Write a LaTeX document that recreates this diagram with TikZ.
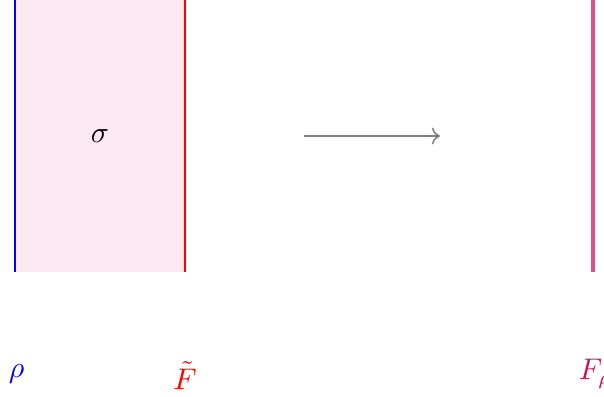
\documentclass[tikz,border=0pt]{standalone}
\usepackage{amsmath,amssymb}
\usetikzlibrary{arrows.meta,positioning}
\definecolor{fillpink}{RGB}{252,232,240}
\definecolor{thickpink}{RGB}{222,82,140}
\definecolor{labelpurple}{RGB}{200,20,90}

\begin{document}
\begin{tikzpicture}[edge/.style={line width=0.4pt}, lbl/.style={inner sep=1pt}, arr/.style={->,gray,line width=0.5pt}]
\useasboundingbox (-0.176,-1.459) rectangle (6.93,3.2);
\fill[fillpink] (0,0) rectangle (2,3.2);
\draw[edge,blue] (0,0) coordinate (lb) -- (0,3.2) coordinate (lt);
\draw[edge,red] (2,0) coordinate (rb) -- (2,3.2) coordinate (rt);
\node (sigma) at (1,1.6) {$\sigma$};
\coordinate (as) at (3.4,1.6); \coordinate (ae) at (5.0,1.6);
\draw[arr] (as) -- (ae);
\draw[very thick,thickpink] (6.8,0) coordinate (fb) -- (6.8,3.2) coordinate (ft);
\node[lbl,blue] (rho) at (0.02,-1.2) {$\rho$};
\node[lbl,red] (ftilde) at (2,-1.22) {$\tilde F$};
\node[lbl,labelpurple] (frho) at (6.83,-1.2) {$F_\rho$};
\end{tikzpicture}
\end{document}
